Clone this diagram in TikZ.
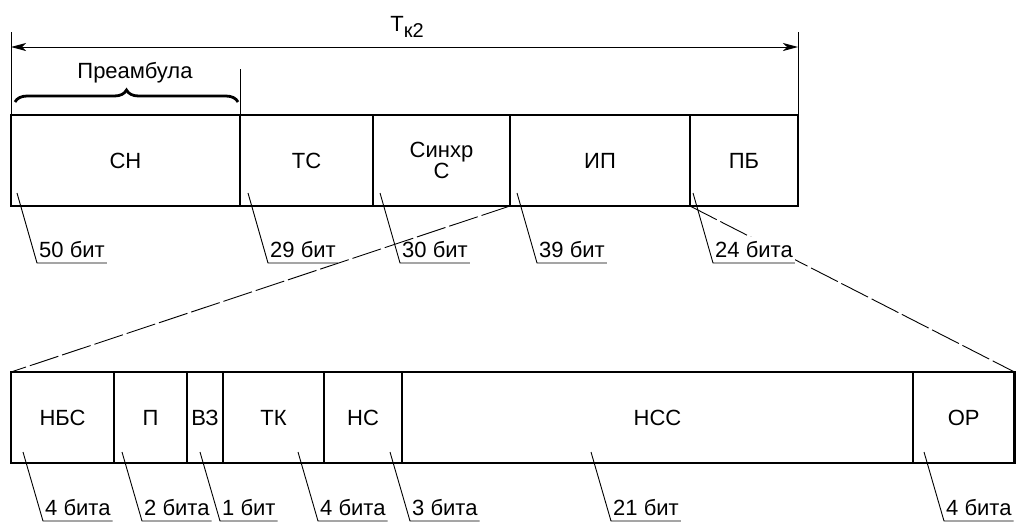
\documentclass[tikz,border=0pt]{standalone}
\usepackage{fontspec}
\setmainfont{Liberation Sans}
\usetikzlibrary{arrows.meta,decorations.pathreplacing}
\tikzset{myst/.tip={Stealth[length=15pt,width=8pt,inset=4pt]}}
\begin{document}
\begin{tikzpicture}[x=1pt,y=-1pt,
  every node/.style={font=\fontsize{22}{19.5}\selectfont},
  cell/.style={draw, line width=2.8pt, rectangle, anchor=north west,
    minimum height=91pt, inner sep=0pt, outer sep=0pt, align=center},
  thinln/.style={line width=0.9pt},
  dashln/.style={line width=0.9pt, dash pattern=on 30pt off 4pt},
  lbl/.style={anchor=south west, inner xsep=2pt, inner ysep=5pt, text depth=0pt}
]
\useasboundingbox (0,0) rectangle (1016,523);

% top frame
\node[cell, minimum width=229pt] (cn)   at (11,115)  {СН};
\node[cell, minimum width=133pt] (ts)   at (240,115) {ТС};
\node[cell, minimum width=137pt] (sync) at (373,115) {Синхр\\С};
\node[cell, minimum width=180pt] (ip)   at (510,115) {ИП};
\node[cell, minimum width=108pt] (pb)   at (690,115) {ПБ};

% bottom frame
\node[cell, minimum width=103pt]   (nbs) at (11,372)  {НБС};
\node[cell, minimum width=73pt]    (pp)  at (114,372) {П};
\node[cell, minimum width=36pt]    (vz)  at (187,372) {ВЗ};
\node[cell, minimum width=101pt]   (tk)  at (223,372) {ТК};
\node[cell, minimum width=78pt]    (ns)  at (324,372) {НС};
\node[cell, minimum width=511pt]   (nss) at (402,372) {НСС};
\node[cell, minimum width=101.5pt] (op)  at (913,372) {ОР};

% dimension arrow
\coordinate (eL) at (11,32);
\coordinate (eR) at (798,32);
\coordinate (aL) at (11,47);
\coordinate (aR) at (798,47);
\draw[thinln] (eL) -- (cn.north west);
\draw[thinln] (eR) -- (pb.north east);
\draw[thinln, myst-myst] (aL) -- (aR);
\node[anchor=base] (tk2) at (407,31) {Т\raisebox{-6.5pt}{\fontsize{20}{20}\selectfont к2}};

% preamble
\coordinate (pe) at (240,69);
\draw[thinln] (pe) -- (ts.north west);
\coordinate (bL) at (15,102);
\coordinate (bR) at (238,102);
\draw[line width=2.8pt, decorate, decoration={brace, amplitude=12pt}] (bL) -- (bR);
\node[anchor=base] (pre) at (135,78) {Преамбула};

% expansion lines
\draw[dashln] (ip.south west) -- (nbs.north west);
\draw[dashln] (ip.south east) -- (op.north east);

% top labels
\foreach \n/\x/\t in {a/37/50 бит, b/268/29 бит, c/400/30 бит, d/537/39 бит}{
  \coordinate (s\n) at ({\x-20},193);
  \node[lbl] (l\n) at (\x,263) {\t};
  \draw[thinln] (s\n) -- (l\n.south west) -- (l\n.south east);
}
\coordinate (se) at (693,193);
\node[lbl, fill=white] (le) at (713,263) {24 бита};
\draw[thinln] (se) -- (le.south west) -- (le.south east);

% bottom labels
\foreach \n/\x/\t in {f/43/4 бита, g/142/2 бита, h/220/1 бит, i/318/4 бита, j/410/3 бита, k/611/21 бит, m/944/4 бита}{
  \coordinate (s\n) at ({\x-20},452);
  \node[lbl] (l\n) at (\x,521) {\t};
  \draw[thinln] (s\n) -- (l\n.south west) -- (l\n.south east);
}
\end{tikzpicture}
\end{document}
